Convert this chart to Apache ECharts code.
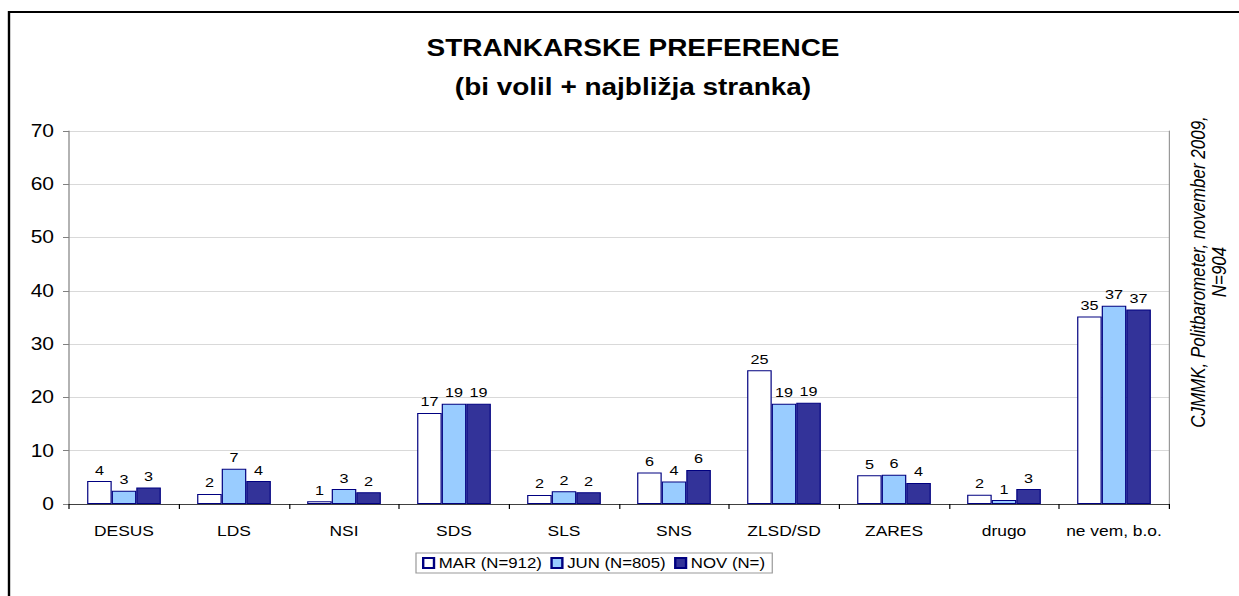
<!DOCTYPE html>
<html>
<head>
<meta charset="utf-8">
<script src="https://cdn.jsdelivr.net/npm/echarts@6/dist/echarts.min.js"></script>
<style>
html,body{margin:0;padding:0;background:#fff;overflow:hidden;width:1239px;height:596px;}
#chart{height:596px;transform-origin:0 0;}
</style>
</head>
<body>
<div id="chart"></div>
<script>
var categories = ['DESUS', 'LDS', 'NSI', 'SDS', 'SLS', 'SNS', 'ZLSD/SD', 'ZARES', 'drugo', 'ne vem, b.o.'];
var seriesNames = ['MAR (N=912)', 'JUN (N=805)', 'NOV (N=)'];
var marValues = [4.3, 1.9, 0.5, 17.1, 1.7, 5.9, 25.1, 5.4, 1.75, 35.2];
var junValues = [2.5, 6.6, 2.8, 18.8, 2.4, 4.2, 18.8, 5.5, 0.75, 37.2];
var novValues = [3.1, 4.3, 2.2, 18.8, 2.2, 6.4, 19.0, 3.95, 2.8, 36.5];
var yTicks = [0, 10, 20, 30, 40, 50, 60, 70];

// the reference picture is horizontally stretched; reproduce that with a CSS scaleX
var S = 1.2;
var W = 1239 / S;
var el = document.getElementById('chart');
el.style.width = W + 'px';
el.style.transform = 'scaleX(' + S + ')';
function X(x) { return x / S; }

var chart = echarts.init(el, null, {renderer: 'svg', width: W, height: 596});
var fontFam = 'Liberation Sans, Arial, sans-serif';
function mk(name, data, fill) {
  return {
    name: name,
    type: 'bar',
    data: data,
    barGap: '0%',
    barCategoryGap: '33%',
    itemStyle: {color: fill, borderColor: '#000080', borderWidth: 1},
    label: {
      show: true, position: 'top', distance: 4,
      color: '#000', fontFamily: fontFam, fontSize: 13.5,
      formatter: function (p) { return Math.round(p.value); }
    }
  };
}
chart.setOption({
  animation: false,
  backgroundColor: '#fff',
  title: [{
    text: 'STRANKARSKE PREFERENCE\n(bi volil + najbližja stranka)',
    left: X(627), top: 23, textAlign: 'center',
    textStyle: {fontFamily: fontFam, fontWeight: 'bold', fontSize: 23.3, lineHeight: 39, color: '#000'}
  }],
  graphic: [
    {type: 'rect', shape: {x: X(9), y: 12, width: 1300, height: 700}, style: {fill: 'none', stroke: '#000', lineWidth: 2}, z: 100},
    {type: 'text', x: X(1208), y: 272, rotation: Math.PI / 2,
     style: {text: 'CJMMK, Politbarometer, november 2009,\nN=904', fontFamily: fontFam, fontStyle: 'italic', fontSize: 17, lineHeight: 17.5, fill: '#000', align: 'center', verticalAlign: 'middle'}}
  ],
  legend: {
    data: seriesNames,
    left: X(416), top: 553,
    padding: [3, 6, 3, 5],
    itemWidth: 9, itemHeight: 10, itemGap: 7,
    borderColor: '#999', borderWidth: 1,
    textStyle: {fontFamily: fontFam, fontSize: 14, color: '#000', padding: [0, 0, 0, -1]},
    icon: 'rect'
  },
  grid: {left: X(69), right: X(1239 - 1169), top: 131, bottom: 92, containLabel: false},
  xAxis: {
    type: 'category', data: categories,
    axisLine: {lineStyle: {color: '#404040'}},
    axisTick: {show: true, alignWithLabel: false, length: 5, lineStyle: {color: '#000'}},
    axisLabel: {color: '#000', fontFamily: fontFam, fontSize: 14.5, margin: 20, interval: 0}
  },
  yAxis: [{
    type: 'value', min: 0, max: 70, interval: 10,
    axisLine: {show: true, lineStyle: {color: '#808080'}},
    axisTick: {show: true, length: 5, lineStyle: {color: '#808080'}},
    axisLabel: {color: '#000', fontFamily: fontFam, fontSize: 17.5, margin: X(15),
      formatter: function (v) { return yTicks.indexOf(v) >= 0 ? String(v) : ''; }},
    splitLine: {lineStyle: {color: '#d9d9d9'}}
  }, {
    type: 'value', min: 0, max: 70, interval: 10, position: 'right',
    axisLine: {show: true, lineStyle: {color: '#999'}},
    axisTick: {show: false}, axisLabel: {show: false}, splitLine: {show: false}
  }],
  series: [
    mk(seriesNames[0], marValues, '#ffffff'),
    mk(seriesNames[1], junValues, '#99ccff'),
    mk(seriesNames[2], novValues, '#333399')
  ]
});
</script>
</body>
</html>
